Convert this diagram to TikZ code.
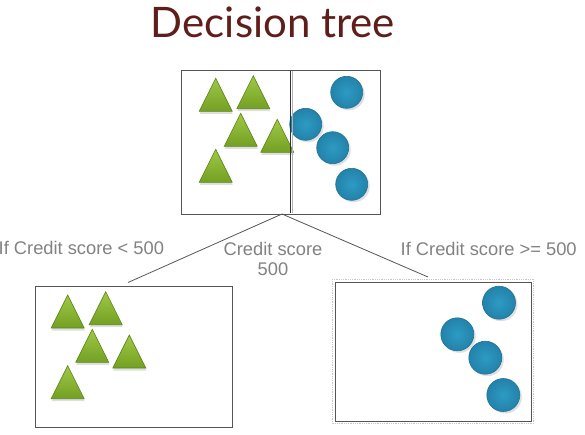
\documentclass[tikz,border=0pt]{standalone}
\usepackage{fontspec}
\usetikzlibrary{shadows}
\newfontfamily\titlefont{Lato}
\newfontfamily\lblfont{Liberation Sans}
\definecolor{titlecol}{RGB}{95,30,25}
\definecolor{trilight}{RGB}{160,200,70}
\definecolor{tridark}{RGB}{115,160,35}
\definecolor{triedge}{RGB}{90,135,25}
\definecolor{circfill}{RGB}{45,155,195}
\definecolor{circdark}{RGB}{35,130,170}
\definecolor{circedge}{RGB}{30,115,150}
\definecolor{boxedge}{RGB}{85,85,85}
\definecolor{lblcol}{RGB}{130,130,130}
\tikzset{
  tri/.style={top color=trilight, bottom color=tridark, draw=triedge, line width=0.6pt,
    drop shadow={opacity=0.25, shadow xshift=0.5pt, shadow yshift=-2.5pt}},
  ball/.style={inner color=circfill, outer color=circdark, draw=circedge, line width=0.6pt,
    drop shadow={opacity=0.25, shadow xshift=2pt, shadow yshift=-2pt}},
  panel/.style={draw=boxedge, line width=1pt, rectangle, inner sep=0pt},
  conn/.style={draw=boxedge, line width=0.8pt},
  lbl/.style={text=lblcol, inner sep=0pt, font=\lblfont\fontsize{18.3}{20}\selectfont},
  titlestyle/.style={text=titlecol, inner sep=0pt, font=\titlefont\fontsize{42}{48}\selectfont}
}
\newcommand\mytri[2]{\path[tri] (#1,#2) -- ++(-16.5,33) -- ++(33,0) -- cycle;}
\newcommand\myball[3]{\path[ball] (#1,#2) circle[radius=#3];}
\begin{document}
\begin{tikzpicture}[x=1pt,y=-1pt]
\useasboundingbox (0,0) rectangle (585,434);
\fill[white] (0,0) rectangle (585,434);
% title
\node[titlestyle, anchor=base] (title) at (273,37) {Decision tree};
% boxes
\node[panel, minimum width=199pt, minimum height=144pt] (root) at (280.5,142) {};
\node[panel, minimum width=197pt, minimum height=141pt] (leftbox) at (133.5,356.5) {};
\node[panel, minimum width=196pt, minimum height=139pt] (rightbox) at (433,351.5) {};
\draw[gray!45, densely dotted, line width=0.8pt] (332,279) rectangle (533.5,423.5);
% top box contents
\mytri{215.7}{78.3}
\mytri{253.3}{75.7}
\mytri{240.7}{113.3}
\mytri{277.3}{119.3}
\mytri{215.7}{149.3}
\myball{346.7}{92.3}{16}
\myball{305.7}{124.3}{16}
\myball{332.7}{147.7}{16}
\myball{351.7}{184.3}{16}
\draw[black!80, line width=0.7pt] (290.5,71) -- (290.5,213);
\draw[gray!60, line width=0.6pt] (292.3,71) -- (292.3,213);
% bottom left contents
\mytri{67.7}{295}
\mytri{105.7}{291.7}
\mytri{92.3}{329.3}
\mytri{129.3}{335}
\mytri{67.7}{365.7}
% bottom right contents
\myball{499}{302.7}{16.5}
\myball{457.3}{334.3}{16.5}
\myball{485.3}{357.7}{16.5}
\myball{503.3}{395}{16.5}
% connectors
\coordinate (apex) at (282,214);
\coordinate (lend) at (128,282.5);
\coordinate (rend) at (428,277);
\draw[conn] (apex) -- (lend);
\draw[conn] (apex) -- (rend);
% labels
\node[lbl, anchor=base west] (lefttxt) at (-1.5,254) {If Credit score < 500};
\node[lbl, anchor=base west] (righttxt) at (400.5,255) {If Credit score >= 500};
\node[lbl, align=center, anchor=center] (midtxt) at (273,258.5) {Credit score\\500};
\end{tikzpicture}
\end{document}
